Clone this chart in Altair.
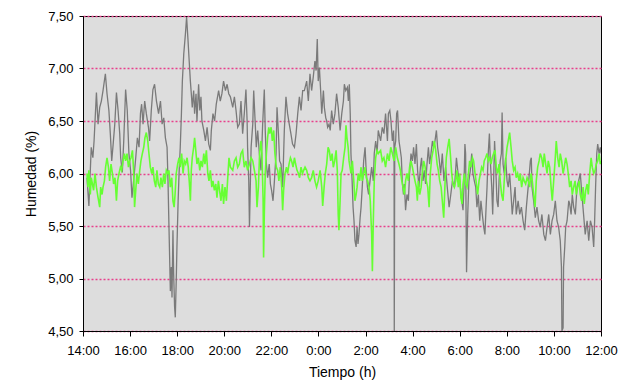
import altair as alt
import pandas as pd

# Hours elapsed since 14:00 and humidity (%) for the grey series
gray_t = [0.17,0.25,0.35,0.42,0.47,0.57,0.64,0.71,0.78,0.85,0.95,1.02,1.10,1.16,1.22,1.27,1.35,1.42,1.49,1.56,1.60,1.67,1.73,1.81,1.88,1.95,2.02,2.08,2.15,2.24,2.31,2.38,2.44,2.49,2.55,2.62,2.69,2.78,2.83,2.90,2.97,3.04,3.12,
          3.21,3.29,3.36,3.43,3.50,3.57,3.61,3.64,3.67,3.71,3.75,3.78,3.82,3.85,3.89,3.92,3.96,3.99,4.04,4.08,4.13,4.18,4.22,4.28,4.35,4.40,4.46,4.50,4.56,4.60,4.64,4.70,4.74,4.80,4.84,4.91,4.96,5.01,5.05,5.13,5.20,5.27,5.34,5.41,5.45,5.52,5.59,5.66,5.76,5.83,5.90,5.97,6.05,6.12,6.19,6.26,
          6.36,6.43,6.50,6.57,6.64,6.71,6.78,6.85,6.92,6.97,6.99,7.04,7.07,7.11,7.14,7.21,7.25,7.31,7.36,7.42,7.49,7.56,7.63,7.70,7.74,7.79,7.84,7.91,7.96,8.01,8.07,8.13,8.20,8.24,8.30,8.35,8.41,8.48,8.55,8.62,8.69,8.76,8.83,8.90,8.98,9.05,9.12,9.19,9.26,9.33,9.40,
          9.50,9.57,9.64,9.71,9.78,9.85,9.90,9.95,9.99,10.04,10.10,10.14,10.21,10.25,10.31,10.35,10.39,10.45,10.50,10.56,10.63,10.70,10.77,10.84,10.92,10.99,11.06,11.10,11.16,11.23,11.27,11.31,11.35,11.38,11.43,11.47,11.51,11.55,11.60,11.64,11.68,11.72,11.77,11.81,11.86,11.92,11.98,12.02,12.08,12.13,12.19,12.26,12.33,12.37,12.43,12.49,12.54,
          12.64,12.71,12.78,12.85,12.93,12.97,13.03,13.08,13.14,13.19,13.21,13.22,13.24,13.28,13.32,13.36,13.42,13.46,13.52,13.56,13.61,13.65,13.70,13.76,13.82,13.87,13.93,13.99,14.04,14.10,14.16,14.21,14.27,14.33,14.38,14.44,14.50,14.55,14.61,14.67,14.72,14.78,14.84,14.89,14.95,15.01,15.06,15.12,15.19,15.26,15.33,15.40,15.47,15.55,15.62,15.69,
          15.78,15.86,15.93,16.00,16.07,16.14,16.18,16.22,16.25,16.28,16.29,16.34,16.39,16.45,16.51,16.56,16.62,16.68,16.73,16.79,16.85,16.90,16.96,17.02,17.07,17.12,17.16,17.21,17.26,17.30,17.36,17.40,17.44,17.48,17.53,17.58,17.63,17.67,17.72,17.77,17.80,17.84,17.89,17.95,18.01,18.06,18.12,18.18,18.23,18.29,18.35,18.40,18.48,18.55,18.62,18.69,18.76,18.83,
          18.93,19.00,19.04,19.07,19.14,19.21,19.28,19.35,19.42,19.49,19.57,19.64,19.71,19.78,19.85,19.92,19.99,20.06,20.13,20.20,20.27,20.32,20.34,20.39,20.41,20.46,20.50,20.56,20.63,20.67,20.73,20.78,20.84,20.91,20.98,21.05,21.12,21.19,21.26,21.33,21.41,21.48,21.55,21.62,21.69,21.73,21.77,21.82,21.86,21.92,21.97,22.00]
gray_v = [5.96,5.69,6.25,6.15,6.31,6.77,6.47,6.63,6.69,6.79,6.95,6.76,6.60,6.38,6.12,6.25,6.47,6.77,6.60,6.38,6.15,6.01,6.31,6.80,6.60,6.19,6.03,5.77,5.93,6.15,6.34,6.25,6.57,6.66,6.47,6.69,6.57,6.44,6.31,6.60,6.80,6.85,6.69,
          6.57,6.69,6.47,6.53,6.34,6.25,5.93,5.61,5.30,4.88,5.11,4.82,5.46,5.04,4.73,4.63,4.98,5.30,5.74,6.00,6.25,6.57,6.88,7.14,7.33,7.49,7.27,7.11,6.88,6.76,6.63,6.79,6.57,6.76,6.50,6.85,6.60,6.73,6.50,6.41,6.31,6.44,6.28,6.22,6.41,6.57,6.50,6.66,6.79,6.69,6.76,6.88,6.79,6.85,6.76,6.73,
          6.63,6.73,6.60,6.44,6.47,6.69,6.38,6.57,6.80,6.50,6.25,5.93,5.49,5.93,6.25,6.47,6.79,6.50,6.25,6.41,6.19,6.03,6.47,6.80,6.41,6.09,5.96,6.09,5.90,5.84,5.74,5.93,6.19,6.63,6.38,6.12,6.09,5.87,6.41,6.73,6.57,6.47,6.38,6.28,6.25,6.38,6.57,6.73,6.60,6.79,6.79,
          6.88,6.69,6.95,6.79,6.92,7.07,6.98,7.28,6.88,7.01,6.76,6.57,6.79,6.63,6.53,6.50,6.44,6.47,6.41,6.60,6.47,6.57,6.76,6.63,6.41,6.57,6.69,6.85,6.79,6.82,6.69,6.85,6.57,6.19,5.93,5.68,5.55,5.36,5.30,5.49,5.33,5.42,5.58,5.68,5.87,6.12,6.25,6.06,5.87,5.80,5.93,6.06,5.93,6.19,6.31,6.19,6.41,
          6.31,6.44,6.38,6.57,6.31,6.57,6.60,6.50,6.31,6.41,6.25,4.50,6.25,6.31,6.57,6.60,6.31,6.25,6.15,5.93,5.80,5.90,5.65,5.80,5.74,6.00,6.19,6.12,6.25,6.09,6.28,6.03,5.87,6.06,6.15,5.93,6.03,5.90,6.09,6.25,6.09,6.19,6.31,6.25,6.31,6.41,6.25,6.15,6.00,6.19,5.93,6.06,5.87,5.68,5.80,5.93,
          5.87,6.15,6.00,5.93,5.77,5.65,5.87,6.28,6.19,5.30,5.06,5.61,5.93,6.03,6.19,6.00,5.93,5.87,5.68,5.80,5.55,5.74,5.61,5.49,5.42,5.68,5.87,6.19,6.38,6.12,5.87,5.61,5.93,6.31,6.06,5.74,5.68,5.93,6.12,6.19,6.58,6.09,6.00,6.15,5.93,5.87,6.00,5.80,5.61,5.74,5.87,5.61,5.74,5.61,5.68,5.55,5.46,5.68,
          5.93,6.12,6.15,5.87,5.74,5.58,5.68,5.55,5.49,5.61,5.42,5.36,5.49,5.61,5.42,5.55,5.61,5.74,5.55,5.49,5.36,5.11,4.50,4.53,5.11,5.30,5.49,5.55,5.74,5.71,5.61,5.80,5.68,5.61,5.87,5.93,6.00,5.80,5.61,5.42,5.55,5.36,5.55,5.49,5.30,5.55,5.87,6.19,6.28,6.19,6.25,6.19]

# Hours elapsed since 14:00 and humidity (%) for the green series
green_t = [0.17,0.21,0.25,0.31,0.35,0.40,0.45,0.51,0.57,0.64,0.71,0.75,0.81,0.85,0.91,0.96,1.02,1.08,1.13,1.19,1.25,1.30,1.36,1.42,1.47,1.53,1.59,1.64,1.70,1.76,1.81,1.87,1.93,1.98,2.04,2.10,2.15,2.19,2.24,2.29,2.35,2.41,2.46,2.52,2.58,2.63,2.69,2.75,2.80,2.86,2.92,2.97,3.03,3.09,
           3.14,3.20,3.26,3.31,3.37,3.43,3.48,3.54,3.60,3.65,3.71,3.77,3.82,3.87,3.91,3.96,4.02,4.08,4.13,4.19,4.25,4.30,4.36,4.42,4.47,4.53,4.56,4.60,4.64,4.70,4.74,4.79,4.84,4.90,4.96,5.01,5.07,5.13,5.18,5.24,5.30,5.35,5.41,5.47,5.52,5.58,5.64,5.69,5.75,5.80,5.86,5.92,5.97,6.03,6.09,6.14,6.20,6.26,
           6.36,6.43,6.50,6.57,6.64,6.71,6.78,6.85,6.92,6.99,7.07,7.14,7.21,7.28,7.35,7.39,7.45,7.50,7.56,7.60,7.65,7.67,7.70,7.74,7.79,7.84,7.89,7.93,7.99,8.04,8.10,8.15,8.21,8.27,8.32,8.38,8.44,8.48,8.52,8.58,8.64,8.69,8.75,8.81,8.86,8.92,8.98,9.03,9.09,9.15,9.20,9.26,9.32,9.37,
           9.43,9.50,9.57,9.64,9.71,9.78,9.85,9.92,9.99,10.07,10.14,10.18,10.24,10.29,10.35,10.41,10.46,10.52,10.58,10.63,10.69,10.75,10.80,10.84,10.87,10.92,10.96,11.01,11.07,11.13,11.17,11.21,11.26,11.30,11.34,11.38,11.44,11.50,11.55,11.60,11.64,11.69,11.75,11.81,11.86,11.92,11.98,12.03,12.09,12.15,12.20,12.26,12.29,12.33,12.37,12.43,12.49,12.54,
           12.64,12.71,12.78,12.85,12.93,13.00,13.07,13.14,13.21,13.28,13.35,13.42,13.48,13.54,13.59,13.65,13.70,13.76,13.82,13.87,13.93,13.99,14.04,14.10,14.16,14.20,14.24,14.30,14.36,14.41,14.47,14.53,14.58,14.64,14.70,14.75,14.81,14.87,14.92,14.98,15.04,15.09,15.15,15.21,15.26,15.32,15.38,15.43,15.49,15.55,15.60,15.66,
           15.71,15.77,15.83,15.88,15.94,16.00,16.05,16.10,16.14,16.20,16.25,16.31,16.37,16.42,16.48,16.54,16.59,16.65,16.71,16.76,16.82,16.88,16.93,16.99,17.04,17.10,17.16,17.21,17.27,17.33,17.38,17.44,17.50,17.55,17.61,17.67,17.72,17.78,17.84,17.89,17.95,18.01,18.06,18.12,18.18,18.23,18.29,18.35,18.40,18.46,18.52,18.57,18.63,18.69,18.74,18.80,
           18.86,18.91,18.97,19.03,19.08,19.14,19.20,19.25,19.31,19.37,19.42,19.48,19.54,19.59,19.65,19.71,19.76,19.82,19.88,19.93,19.99,20.05,20.10,20.16,20.22,20.27,20.33,20.39,20.44,20.50,20.56,20.61,20.67,20.73,20.78,20.84,20.90,20.95,21.01,21.07,21.12,21.18,21.24,21.29,21.35,21.41,21.46,21.52,21.58,21.63,21.69,21.75,21.80,21.86,21.92,21.97,22.00]
green_v = [6.00,5.87,6.03,5.80,5.96,5.90,5.84,6.00,5.87,5.77,5.68,5.87,5.80,5.87,5.93,6.06,6.15,6.06,5.93,6.09,6.00,5.90,5.96,5.74,5.93,6.00,6.06,6.03,6.12,6.19,6.12,6.19,6.06,6.12,6.15,6.22,6.03,5.68,5.84,6.00,5.90,6.03,6.12,6.19,6.25,6.34,6.39,6.31,6.19,6.06,6.00,6.06,5.93,5.87,
           6.03,5.90,5.87,5.96,5.87,6.00,5.90,6.03,6.00,6.03,5.87,5.96,5.74,5.68,5.80,6.00,6.09,6.15,6.06,6.19,6.00,6.12,6.09,6.15,6.06,5.87,5.74,6.03,6.15,6.25,6.34,6.22,6.09,6.15,6.03,6.12,6.06,6.19,6.09,6.22,6.00,5.93,6.03,5.87,5.93,5.84,5.90,5.77,5.93,5.84,5.74,5.90,5.71,5.87,5.74,5.93,6.15,6.06,
           6.03,6.12,6.15,6.06,6.09,6.19,6.22,6.06,6.12,6.03,6.09,6.15,6.12,6.03,5.93,5.68,5.87,6.19,6.31,6.19,5.74,5.20,5.61,6.00,6.19,6.34,6.44,6.38,6.44,6.31,6.41,6.19,6.06,6.03,5.93,6.06,5.87,5.65,5.84,6.00,6.06,6.00,6.09,6.15,6.12,6.06,6.15,6.09,6.03,6.00,5.96,6.06,6.00,6.03,
           6.06,6.03,5.96,5.93,5.96,6.03,5.93,5.87,5.93,6.03,5.87,5.69,5.87,6.00,6.09,6.25,6.22,6.12,6.19,6.06,6.12,6.22,6.03,5.61,5.46,5.74,6.00,6.03,6.15,6.25,6.46,6.34,6.25,6.12,6.06,6.00,6.12,5.93,5.74,5.80,5.87,6.00,5.93,6.06,5.93,6.00,6.06,5.96,5.93,5.87,5.74,5.42,5.07,5.55,5.93,6.15,6.22,6.19,
           6.22,6.12,6.15,6.06,6.19,6.12,6.25,6.19,6.12,6.25,6.15,6.09,6.03,5.93,5.87,5.80,5.93,6.00,5.93,6.06,6.12,6.06,6.00,5.93,5.87,5.74,5.93,5.80,5.87,6.00,6.12,6.06,5.93,5.87,5.68,6.00,6.15,6.22,6.31,6.22,6.09,6.03,5.93,5.87,5.74,5.58,5.93,6.15,6.25,6.33,6.19,6.00,
           5.90,5.87,5.93,6.03,5.87,6.00,5.77,5.71,5.90,6.00,5.90,5.87,6.00,6.12,6.06,6.15,6.12,6.00,5.90,5.80,5.93,6.00,6.06,6.03,6.12,6.15,6.19,6.12,6.15,6.09,6.15,6.19,6.22,6.06,6.00,6.09,5.93,5.80,5.74,5.93,6.12,6.25,6.31,6.39,6.25,6.12,6.03,6.06,5.96,6.00,5.93,6.00,5.87,5.96,5.93,5.90,
           5.96,5.93,5.87,6.00,5.93,5.80,5.68,5.93,6.06,6.12,6.19,6.15,6.06,6.19,6.09,6.00,6.12,6.06,5.87,5.74,5.93,6.12,6.31,6.15,6.06,6.19,6.12,6.00,6.06,6.15,6.09,6.00,5.87,5.93,5.80,5.87,5.93,5.80,5.87,5.93,5.80,5.74,5.87,5.71,5.84,5.90,5.80,6.00,6.15,6.06,6.00,6.03,6.09,6.12,6.19,6.09,6.12]

x_ticks = [0, 2, 4, 6, 8, 10, 12, 14, 16, 18, 20, 22]
y_ticks = [4.5, 5.0, 5.5, 6.0, 6.5, 7.0, 7.5]

assert len(gray_t) == len(gray_v)
assert len(green_t) == len(green_v)

gray_df = pd.DataFrame({"t": gray_t, "v": gray_v})
green_df = pd.DataFrame({"t": green_t, "v": green_v})

FONT = "Liberation Sans"

x_enc = alt.X(
    "t:Q",
    scale=alt.Scale(domain=[0, 22], nice=False, zero=False),
    axis=alt.Axis(
        values=x_ticks,
        labelExpr="((datum.value + 14) % 24) + ':00'",
        title="Tiempo (h)",
        grid=False,
        tickSize=5,
        labelPadding=8,
        titlePadding=8,
        labelFlush=False,
    ),
)
y_enc = alt.Y(
    "v:Q",
    scale=alt.Scale(domain=[4.5, 7.5], nice=False, zero=False),
    axis=alt.Axis(
        values=y_ticks,
        labelExpr="replace(format(datum.value, '.2f'), '.', ',')",
        title="Humedad (%)",
        grid=True,
        gridColor="#E8408C",
        gridDash=[2, 2],
        gridWidth=1.5,
        tickSize=4,
        labelPadding=6,
        titlePadding=9,
        labelFlush=False,
    ),
)

gray_line = alt.Chart(gray_df).mark_line(color="#7A7A7A", strokeWidth=1.3, clip=True).encode(x=x_enc, y=y_enc)
green_line = alt.Chart(green_df).mark_line(color="#66FF33", strokeWidth=1.6, clip=True).encode(x="t:Q", y="v:Q")

chart = alt.layer(gray_line, green_line).properties(
    width=518,
    height=315,
    padding={"left": 75, "top": 8, "right": 23, "bottom": 54},
    autosize=alt.AutoSizeParams(type="none"),
).configure_view(
    fill="#DDDDDD", stroke="#000000", strokeWidth=1
).configure_axis(
    domainColor="#000000",
    domainWidth=1,
    tickColor="#000000",
    labelColor="#000000",
    titleColor="#000000",
    labelFont=FONT,
    titleFont=FONT,
    labelFontSize=13,
    titleFontSize=14,
    titleFontWeight="normal",
)

chart.save("out.html", embed_options={"renderer": "svg", "actions": False})
